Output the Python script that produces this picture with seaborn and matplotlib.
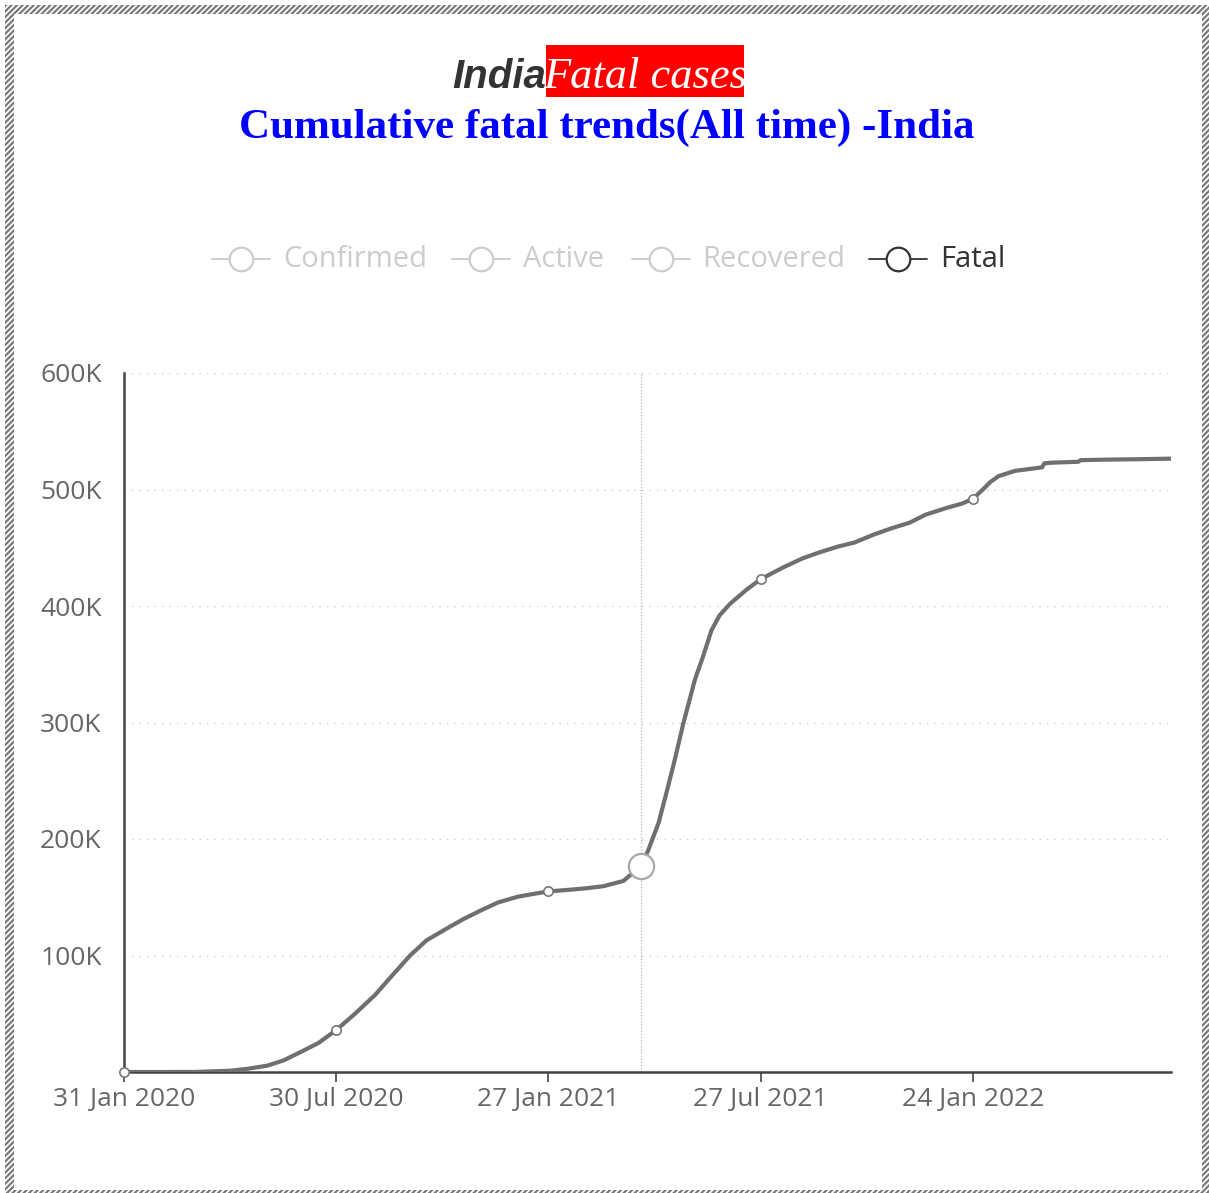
import pandas as pd
import matplotlib.pyplot as plt
from matplotlib.patches import Rectangle
from matplotlib.lines import Line2D
from matplotlib.ticker import FuncFormatter
import seaborn as sns

# cumulative fatal cases in India
dates = ['2020-01-31', '2020-03-01', '2020-04-01', '2020-05-01', '2020-05-15',
         '2020-06-01', '2020-06-15', '2020-07-01', '2020-07-15', '2020-07-30',
         '2020-08-15', '2020-09-01', '2020-09-15', '2020-10-01', '2020-10-15',
         '2020-11-01', '2020-11-15', '2020-12-01', '2020-12-15', '2021-01-01',
         '2021-01-15', '2021-01-27', '2021-02-15', '2021-03-01', '2021-03-15',
         '2021-04-01', '2021-04-16', '2021-04-22', '2021-05-01', '2021-05-08',
         '2021-05-15', '2021-05-22', '2021-06-01', '2021-06-08', '2021-06-15',
         '2021-06-22', '2021-07-01', '2021-07-15', '2021-07-27', '2021-08-15',
         '2021-09-01', '2021-09-15', '2021-10-01', '2021-10-15', '2021-11-01',
         '2021-11-15', '2021-12-01', '2021-12-15', '2022-01-01', '2022-01-15',
         '2022-01-24', '2022-02-01', '2022-02-08', '2022-02-15', '2022-03-01',
         '2022-03-24', '2022-03-26', '2022-04-01', '2022-04-24', '2022-04-26',
         '2022-05-15', '2022-06-15', '2022-07-12']
fatal = [0, 0, 40, 1150, 2700,
         5400, 9900, 17800, 25000, 36000,
         50000, 66000, 82000, 100000, 113000,
         123000, 131000, 139000, 145500, 150500,
         153000, 155000, 156500, 157800, 159500,
         164000, 177000, 190000, 214000, 241000,
         269000, 299000, 337000, 357000, 379000,
         392000, 402000, 414000, 423000, 433000,
         441000, 446000, 451000, 454500, 461500,
         466500, 471500, 478500, 484000, 488000,
         492000, 499500, 506500, 511500, 516000,
         519000, 522500, 523000, 523800, 525200,
         525600, 526000, 526500]

marker_dates = ['2020-01-31', '2020-07-30', '2021-01-27', '2021-07-27', '2022-01-24']
tick_dates = ['2020-01-31', '2020-07-30', '2021-01-27', '2021-07-27', '2022-01-24']
tick_labels = ['31 Jan 2020', '30 Jul 2020', '27 Jan 2021', '27 Jul 2021', '24 Jan 2022']
hover_date = '2021-04-16'
legend_names = ['Confirmed', 'Active', 'Recovered', 'Fatal']
legend_colors = ['#cccccc', '#cccccc', '#cccccc', '#333333']

sns.set_style('white')
plt.rcParams['font.family'] = ['Open Sans', 'DejaVu Sans']
plt.rcParams['hatch.linewidth'] = 1.6

df = pd.DataFrame({'date': pd.to_datetime(dates), 'fatal': fatal})

fig = plt.figure(figsize=(12.09, 11.93), dpi=100)
W, H = 1209, 1193

# hatched frame round the chart
fig.patches.append(Rectangle((5 / W, -0.01), 1.02, (H - 5) / H + 0.01, transform=fig.transFigure,
                             facecolor='white', edgecolor='#7a7a7a', hatch='//////', lw=0, zorder=-10))
fig.patches.append(Rectangle((14 / W, (H - 1190) / H), (1202 - 14) / W, (1190 - 14) / H,
                             transform=fig.transFigure, facecolor='white', edgecolor='none', zorder=-9))

# title
fig.patches.append(Rectangle((546 / W, (H - 97) / H), 198 / W, 52 / H, transform=fig.transFigure,
                             facecolor='#ff0000', edgecolor='none', zorder=-5))
fig.text(546 / W, (H - 88) / H, 'India', ha='right', va='baseline', fontsize=29,
         fontweight='bold', style='italic', color='#333333', family=['Liberation Sans', 'DejaVu Sans'])
fig.text(645 / W, (H - 88) / H, 'Fatal cases', ha='center', va='baseline', fontsize=32,
         style='italic', color='white', family=['Liberation Serif', 'DejaVu Serif'])
fig.text(607 / W, (H - 138) / H, 'Cumulative fatal trends(All time) -India', ha='center', va='baseline',
         fontsize=31, fontweight='bold', color='#0000ff', family=['Liberation Serif', 'DejaVu Serif'])

# legend
icon_left = [212, 452, 632, 869]
text_left = [283, 523, 702, 940]
ly = (H - 259) / H
for name, c, x0, tx in zip(legend_names, legend_colors, icon_left, text_left):
    fig.add_artist(Line2D([x0 / W, (x0 + 58) / W], [ly, ly], transform=fig.transFigure, color=c, lw=1.3))
    fig.add_artist(Line2D([(x0 + 29) / W], [ly], transform=fig.transFigure, marker='o', ms=17,
                          mfc='white', mec=c, mew=1.6, lw=0))
    fig.text(tx / W, (H - 267) / H, name, ha='left', va='baseline', fontsize=21, color=c)

ax = fig.add_axes([124 / W, (H - 1072) / H, (1171 - 124) / W, (1072 - 373) / H])
ax.set_facecolor('none')

sns.lineplot(data=df, x='date', y='fatal', ax=ax, color='#6f6f6f', lw=3, zorder=3)

# small hollow markers at the label dates
marks = df[df['date'].isin(pd.to_datetime(marker_dates))]
ax.scatter(marks['date'], marks['fatal'], s=45, facecolor='white', edgecolor='#777777',
           linewidth=1.2, zorder=4, clip_on=False)

# hovered point with crosshair
hover = df[df['date'] == pd.to_datetime(hover_date)]
ax.axvline(pd.to_datetime(hover_date), color='#b5b5b5', lw=0.9, ls=(0, (1, 1.5)), zorder=2)
ax.scatter(hover['date'], hover['fatal'], s=330, facecolor='white', edgecolor='#a8a8a8',
           linewidth=1.6, zorder=5)

ax.set_xlim(pd.to_datetime('2020-01-31'), pd.to_datetime('2022-07-12'))
ax.set_ylim(0, 600000)
ax.set_yticks(range(0, 600001, 100000))
ax.yaxis.set_major_formatter(FuncFormatter(lambda v, p: '' if v == 0 else f'{int(v / 1000)}K'))
ax.set_xticks(pd.to_datetime(tick_dates))
ax.set_xticklabels(tick_labels)
ax.set_xlabel('')
ax.set_ylabel('')

ax.yaxis.grid(True, color='#c4c4c4', lw=0.9, ls=(0, (1, 5)))
ax.xaxis.grid(False)
ax.tick_params(axis='y', length=0, pad=16, labelsize=19, labelcolor='#666666')
ax.tick_params(axis='x', length=7, width=1.2, color='#444444', pad=4, labelsize=19,
               labelcolor='#666666', bottom=True)
for side in ['top', 'right']:
    ax.spines[side].set_visible(False)
for side in ['left', 'bottom']:
    ax.spines[side].set_color('#444444')
    ax.spines[side].set_linewidth(1.8)

plt.savefig('out.png', dpi=100)
